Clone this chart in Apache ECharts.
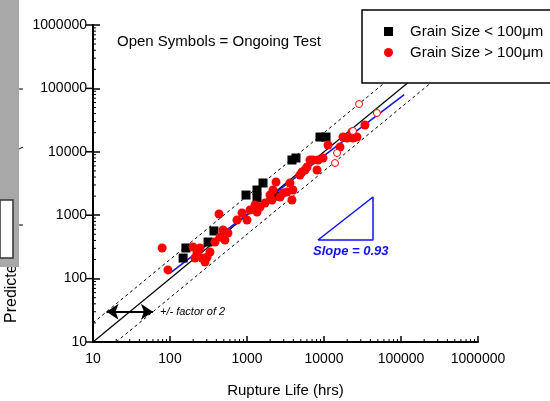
<!DOCTYPE html>
<html>
<head>
<meta charset="utf-8"/>
<title>Rupture Life</title>
<script src="https://cdn.jsdelivr.net/npm/echarts@6/dist/echarts.min.js"></script>
<style>
  html, body { margin: 0; padding: 0; background: #fff; }
  #main { width: 550px; height: 401px; }
</style>
</head>
<body>
<div id="main"></div>
<script type="text/javascript">
// rupture life (hrs) vs predicted life, grain size < 100um (black squares)
var fineX = [148, 161, 312, 372, 970, 1349, 1349, 1614, 2455, 3837, 4325, 8870, 10620];
var fineY = [211, 304, 378, 564, 2080, 2495, 1866, 3221, 2010, 7430, 7980, 17100, 17100];

// grain size > 100um (red dots)
var coarseX = [79, 94, 199, 245, 224, 261, 303, 331, 211, 285, 384, 446, 517, 488, 566, 433,
  741, 861, 1000, 1094, 1349, 1270, 1476, 1714, 1990, 2113, 2381, 2178, 2685, 3306, 3614,
  3837, 3953, 2938, 4875, 5176, 5664, 6012, 6577, 7194, 8110, 8360, 9710, 11270, 16140,
  17660, 19900, 23800, 26850, 23100, 34000];
var coarseY = [304, 137, 315, 304, 253, 211, 219, 263, 211, 183, 378, 453, 406, 585, 524, 1045,
  840, 1083, 840, 1208, 1122, 1449, 1346, 1557, 2080, 1738, 3342, 2495, 1937, 2323, 3221,
  1738, 2495, 2239, 4305, 4798, 5164, 5754, 7430, 7430, 5164, 7430, 7980, 12790, 11900,
  17100, 16510, 16510, 17100, 20500, 26500];

// open symbols = ongoing tests
var ongoingX = [28500, 48700, 23800, 14760, 13900];
var ongoingY = [56700, 40900, 21300, 9570, 6650];

// reference lines
var unityLine = [[10, 10], [1000000, 1000000]];
var upperLine = [[10, 20], [500000, 1000000]];
var lowerLine = [[20, 10], [1000000, 500000]];
var fitLine = [[100, 122], [110000, 80000]];
var slopeTriangle = [[8360, 406], [43300, 406], [43300, 1937], [8360, 406]];
var factorArrow = [[15, 30], [60, 30]];

var decades = [10, 100, 1000, 10000, 100000, 1000000];

function pairs(xs, ys) {
    return xs.map(function (x, i) { return [x, ys[i]]; });
}

// log minor ticks at 2..9 x 10^n
var minorVals = [];
decades.slice(0, 5).forEach(function (d) {
    for (var k = 2; k <= 9; k++) minorVals.push(d * k);
});

var font = 'Arial, "Liberation Sans", sans-serif';
var chart = echarts.init(document.getElementById('main'));

function plainNumber(v) { return String(Math.round(v)); }

var option = {
    animation: false,
    grid: { left: 93, right: 72, top: 25, bottom: 59, outerBoundsMode: 'none' },
    xAxis: {
        type: 'log', logBase: 10, min: 10, max: 1000000,
        name: 'Rupture Life (hrs)', nameLocation: 'middle', nameGap: 41,
        nameTextStyle: { fontFamily: font, fontSize: 15, color: '#000' },
        axisLine: { lineStyle: { color: '#000', width: 2 } },
        axisTick: { inside: true, length: 6, lineStyle: { color: '#000', width: 1.5 } },
        axisLabel: { fontFamily: font, fontSize: 14, color: '#000', margin: 10, formatter: plainNumber },
        splitLine: { show: false }
    },
    yAxis: {
        type: 'log', logBase: 10, min: 10, max: 1000000,
        axisLine: { lineStyle: { color: '#000', width: 2 } },
        axisTick: { inside: true, length: 7, lineStyle: { color: '#000', width: 1.5 } },
        axisLabel: { fontFamily: font, fontSize: 14, color: '#000', margin: 6, formatter: plainNumber },
        splitLine: { show: false }
    },
    legend: {
        orient: 'vertical', left: 384, top: 24, padding: 0,
        itemWidth: 9, itemHeight: 9, itemGap: 6,
        textStyle: { fontFamily: font, fontSize: 15, color: '#000', lineHeight: 14, padding: [0, 0, 0, 12] },
        data: [
            { name: 'Grain Size < 100μm', icon: 'rect' },
            { name: 'Grain Size > 100μm', icon: 'circle' }
        ]
    },
    graphic: [
        // piece of the underlying figure on the left edge
        { type: 'text', z: 1, x: 12, y: 323, rotation: Math.PI / 2,
          style: { text: 'Predicted Life (hrs)', font: '16px ' + font, fill: '#000', verticalAlign: 'middle' } },
        { type: 'rect', z: 2, shape: { x: 0, y: 0, width: 19, height: 267 }, style: { fill: '#a8a8a8' } },
        { type: 'rect', z: 3, shape: { x: 0, y: 200, width: 13, height: 58 }, style: { fill: '#fff', stroke: '#333', lineWidth: 1.5 } },
        { type: 'line', z: 3, shape: { x1: 19, y1: 89, x2: 23, y2: 89 }, style: { stroke: '#000', lineWidth: 1 } },
        { type: 'line', z: 3, shape: { x1: 19, y1: 149, x2: 23, y2: 147 }, style: { stroke: '#000', lineWidth: 1 } },
        { type: 'line', z: 3, shape: { x1: 19, y1: 225, x2: 23, y2: 225 }, style: { stroke: '#000', lineWidth: 1 } },
        // legend frame
        { type: 'rect', z: 3, shape: { x: 362, y: 10, width: 200, height: 73 }, style: { fill: '#fff', stroke: '#000', lineWidth: 1.5 } },
        { type: 'text', z: 3, x: 117, y: 34, style: { text: 'Open Symbols = Ongoing Test', font: '15px ' + font, fill: '#000' } },
        { type: 'text', z: 3, x: 313, y: 245, style: { text: 'Slope = 0.93', font: 'italic bold 13px ' + font, fill: '#1111ee' } },
        { type: 'text', z: 3, x: 160, y: 306, style: { text: '+/- factor of 2', font: 'italic 11px ' + font, fill: '#000' } }
    ],
    series: [
        { type: 'line', data: unityLine, symbol: 'none', silent: true, z: 1,
          lineStyle: { color: '#000', width: 1.2 } },
        { type: 'line', data: upperLine, symbol: 'none', silent: true, z: 1,
          lineStyle: { color: '#000', width: 1, type: [3, 3] } },
        { type: 'line', data: lowerLine, symbol: 'none', silent: true, z: 1,
          lineStyle: { color: '#000', width: 1, type: [3, 3] } },
        { name: 'Grain Size < 100μm', type: 'scatter', data: pairs(fineX, fineY),
          symbol: 'rect', symbolSize: 9, itemStyle: { color: '#000', opacity: 1 }, z: 2 },
        { name: 'Grain Size > 100μm', type: 'scatter', data: pairs(coarseX, coarseY),
          symbol: 'circle', symbolSize: 9, itemStyle: { color: '#ff0000', opacity: 1 }, z: 2 },
        { name: 'Ongoing', type: 'scatter', data: pairs(ongoingX, ongoingY),
          symbol: 'circle', symbolSize: 7,
          itemStyle: { color: '#fff', borderColor: '#ff0000', borderWidth: 1, opacity: 1 }, z: 2 },
        { type: 'line', data: fitLine, symbol: 'none', silent: true, z: 2,
          lineStyle: { color: '#1010ff', width: 1.5 } },
        { type: 'line', data: slopeTriangle, symbol: 'none', silent: true, z: 2,
          lineStyle: { color: '#1010ff', width: 1.5 } },
        { type: 'lines', coordinateSystem: 'cartesian2d', silent: true, z: 2,
          symbol: ['arrow', 'arrow'], symbolSize: [12, 12],
          lineStyle: { color: '#000', width: 2, opacity: 1 },
          data: [{ coords: factorArrow }] },
        // log minor ticks on x
        { type: 'custom', silent: true, z: 2,
          data: minorVals.map(function (v) { return [v, 10]; }),
          renderItem: function (params, api) {
              var p = api.coord([api.value(0), 10]);
              return { type: 'line', shape: { x1: p[0], y1: p[1], x2: p[0], y2: p[1] - 3 },
                       style: { stroke: '#000', lineWidth: 1 } };
          } },
        // log minor ticks on y
        { type: 'custom', silent: true, z: 2,
          data: minorVals.map(function (v) { return [10, v]; }),
          renderItem: function (params, api) {
              var p = api.coord([10, api.value(1)]);
              return { type: 'line', shape: { x1: p[0], y1: p[1], x2: p[0] + 3, y2: p[1] },
                       style: { stroke: '#000', lineWidth: 1 } };
          } },
        // major y ticks cross the axis
        { type: 'custom', silent: true, z: 2,
          data: decades.map(function (v) { return [10, v]; }),
          renderItem: function (params, api) {
              var p = api.coord([10, api.value(1)]);
              return { type: 'line', shape: { x1: p[0] - 7, y1: p[1], x2: p[0], y2: p[1] },
                       style: { stroke: '#000', lineWidth: 1.5 } };
          } }
    ]
};

chart.setOption(option);
</script>
</body>
</html>
